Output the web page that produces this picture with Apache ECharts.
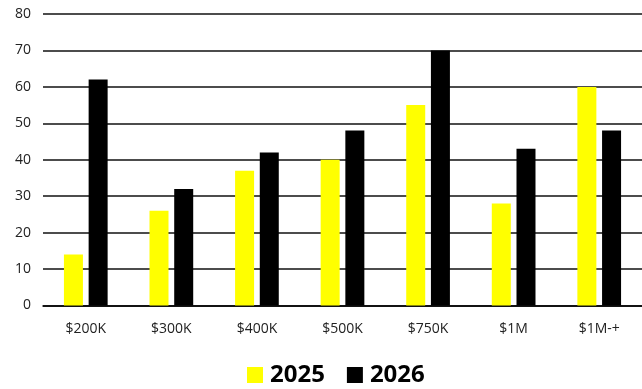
<!DOCTYPE html>
<html><head><meta charset="utf-8">
<script src="https://cdn.jsdelivr.net/npm/echarts@6/dist/echarts.min.js"></script>
<style>html,body{margin:0;padding:0;background:#fff}#c{width:642px;height:389px}</style>
</head><body><div id="c"></div>
<script>
const categories = ['$200K','$300K','$400K','$500K','$750K','$1M','$1M-+'];
const values2025 = [14,26,37,40,55,28,60];
const values2026 = [62,32,42,48,70,43,48];
const seriesNames = ['2025','2026'];
const yTicks = {min:0,max:80,interval:10};

const chart = echarts.init(document.getElementById('c'));
chart.setOption({
  animation:false,
  backgroundColor:'#fff',
  grid:{left:43,right:0,top:14,bottom:83.5,containLabel:false},
  legend:{
    data:seriesNames, top:363, left:247, padding:0, itemWidth:16, itemHeight:16, itemGap:22,
    icon:'rect',
    textStyle:{fontFamily:'Open Sans',fontWeight:'bold',fontSize:24,lineHeight:24,color:'#000',padding:[0,0,0,2]}
  },
  xAxis:{
    type:'category', data:categories,
    axisLine:{show:true,lineStyle:{color:'#000',width:1.5}},
    axisTick:{show:false},
    axisLabel:{fontFamily:'Open Sans',fontSize:14,color:'#222',margin:17}
  },
  yAxis:{
    type:'value', min:yTicks.min, max:yTicks.max, interval:yTicks.interval,
    axisLine:{show:false}, axisTick:{show:false},
    splitLine:{lineStyle:{color:'#111',width:1.5}},
    axisLabel:{fontFamily:'Open Sans',fontSize:14,color:'#222',margin:12}
  },
  series:[
    {name:seriesNames[0],type:'bar',data:values2025,barWidth:19,barGap:'30%',itemStyle:{color:'#FFFF00'}},
    {name:seriesNames[1],type:'bar',data:values2026,barWidth:19,itemStyle:{color:'#000'}}
  ]
});
</script></body></html>
